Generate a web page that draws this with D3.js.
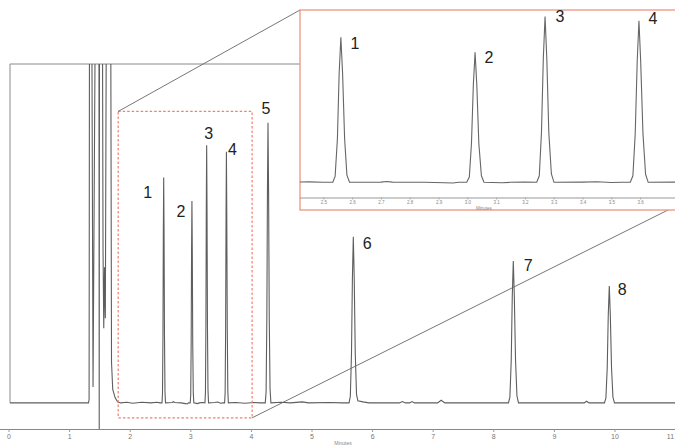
<!DOCTYPE html>
<html><head><meta charset="utf-8">
<script src="https://cdn.jsdelivr.net/npm/d3@7"></script>
<style>html,body{margin:0;padding:0;background:#fff;}svg{display:block;}</style>
</head><body>
<svg id="c" width="675" height="446"></svg>
<script>
// ---- data (retention time in min, detector signal in arbitrary units) ----
const solventFront = [
  [0.000,0],[1.320,0],[1.330,1],[1.337,130],[1.372,130],[1.395,4.7],[1.437,130],
  [1.492,130],[1.497,-7.7],[1.502,130],[1.548,130],[1.560,45],[1.572,22],[1.585,40],
  [1.598,25],[1.617,130],[1.685,130],[1.700,12],[1.720,4],[1.760,1.5],[1.800,0.3],[1.850,0]
];
const baselineA = [[1.95,0.2],[2.05,-0.1],[2.20,0.2],[2.35,0],[2.45,0.2],[2.50,0]];
const peak1 = [[2.533,0],[2.541,2.7],[2.549,20],[2.555,49.9],[2.561,66.5],[2.567,49.9],[2.574,20],[2.582,3.3],[2.591,0]];
const baselineB = [[2.70,0.1],[2.72,0.35],[2.74,0.1],[2.85,0],[2.92,-0.2],[2.95,-0.3],[2.97,0]];
const peak2 = [[2.998,0],[3.007,2.4],[3.0145,17.9],[3.021,44.7],[3.027,59.6],[3.033,44.7],[3.040,17.9],[3.049,3.0],[3.058,0]];
const baselineC = [[3.12,-0.2],[3.15,0],[3.20,0.1]];
const peak3 = [[3.241,0],[3.250,3.0],[3.2575,22.8],[3.264,57],[3.270,76],[3.276,57],[3.283,22.8],[3.292,3.8],[3.301,0]];
const baselineD = [[3.40,0.1],[3.45,0.25],[3.50,-0.1],[3.54,0]];
const peak4 = [[3.566,0],[3.575,3.0],[3.583,22.2],[3.590,55.6],[3.596,74.1],[3.602,55.6],[3.610,22.2],[3.619,3.7],[3.628,0]];
const baselineE = [[3.75,0.1],[3.90,-0.1],[4.05,0.1],[4.15,0]];
const peak5 = [[4.237,0],[4.251,3.3],[4.263,24.8],[4.273,62],[4.282,82.7],[4.292,62],[4.303,24.8],[4.316,4.1],[4.330,0]];
const baselineF = [[4.50,0.2],[4.65,0],[4.85,0.3],[4.95,0],[5.30,0.1],[5.50,0]];
const peak6 = [[5.620,0],[5.641,2.0],[5.660,14.7],[5.675,36.8],[5.690,49.0],[5.705,36.8],[5.722,14.7],[5.743,2.5],[5.765,0.6]];
const baselineG = [[5.85,0.3],[5.95,0],[6.45,0],[6.50,0.4],[6.55,0],[6.62,0],[6.66,0.4],[6.70,0],
  [7.08,0],[7.14,0.8],[7.20,0],[7.60,0],[8.00,0]];
const peak7 = [[8.250,0],[8.274,1.7],[8.296,12.6],[8.313,31.4],[8.330,41.9],[8.347,31.4],[8.367,12.6],[8.390,2.1],[8.416,0]];
const baselineH = [[8.90,0],[9.50,0],[9.54,0.5],[9.58,0]];
const peak8 = [[9.834,0],[9.858,1.4],[9.880,10.4],[9.897,25.9],[9.914,34.5],[9.931,25.9],[9.951,10.4],[9.974,1.7],[10.000,0]];
const baselineI = [[10.50,0],[11.10,0]];

const peakLabels = ["1","2","3","4","5","6","7","8"];
const peakTimes  = [2.561, 3.027, 3.270, 3.596, 4.282, 5.690, 8.330, 9.914];
const peakHeights= [66.5, 59.6, 76.0, 74.1, 82.7, 49.0, 41.9, 34.5];
const mainTicks  = [0,1,2,3,4,5,6,7,8,9,10,11];
const insetTicks = [2.5,2.6,2.7,2.8,2.9,3.0,3.1,3.2,3.3,3.4,3.5,3.6];
const zoomWindow = {t0:1.81, t1:4.02, s0:-4.4, s1:86};

const trace = [].concat(solventFront, baselineA, peak1, baselineB, peak2, baselineC, peak3,
  baselineD, peak4, baselineE, peak5, baselineF, peak6, baselineG, peak7, baselineH, peak8, baselineI);

// ---- layout ----
const svg = d3.select("#c");
const FONT = "'Liberation Sans', Arial, sans-serif";
const x = d3.scaleLinear().domain([0, 11]).range([8.5, 675.1]);
const y = d3.scaleLinear().domain([-7.7, 100]).range([429, 64]);

svg.append("defs").append("clipPath").attr("id","mainClip")
  .append("rect").attr("x",10).attr("y",64).attr("width",670).attr("height",366);
svg.select("defs").append("clipPath").attr("id","insetClip")
  .append("rect").attr("x",300).attr("y",10).attr("width",380).attr("height",187);

// frame
svg.append("line").attr("x1",10).attr("x2",675).attr("y1",64).attr("y2",64).attr("stroke","#8a8a8a");
svg.append("line").attr("x1",10).attr("x2",10).attr("y1",64).attr("y2",y(0)).attr("stroke","#8a8a8a");

// x-axis
const xAxis = d3.axisBottom(x).tickValues(mainTicks).tickSize(3).tickFormat(d3.format("d"));
const gx = svg.append("g").attr("transform","translate(0,429)").call(xAxis);
gx.select(".domain").attr("stroke","#888").attr("d","M0,0.5H675");
gx.selectAll(".tick line").attr("stroke","#999");
gx.selectAll(".tick text").attr("fill","#777").attr("font-size",7).attr("font-family",FONT).attr("dy","0.6em")
  .attr("text-anchor",d=>d===11?"end":"middle").attr("dx",d=>d===11?-1.5:0);
svg.append("text").attr("x",343).attr("y",445).attr("text-anchor","middle")
  .attr("font-size",5).attr("fill","#888").attr("font-family",FONT).text("Minutes");

// main trace
const line = d3.line().x(d=>x(d[0])).y(d=>y(d[1]));
svg.append("path").datum(trace).attr("d",line).attr("fill","none")
  .attr("stroke","#5e5e5e").attr("stroke-width",1.1).attr("clip-path","url(#mainClip)");

// dashed zoom rectangle
const zx0 = x(zoomWindow.t0), zx1 = x(zoomWindow.t1), zy0 = y(zoomWindow.s1), zy1 = y(zoomWindow.s0);
svg.append("rect").attr("x",zx0).attr("y",zy0).attr("width",zx1-zx0).attr("height",zy1-zy0)
  .attr("fill","none").attr("stroke","#ee8170").attr("stroke-width",1.2).attr("stroke-dasharray","2.5,2");

// connector lines
svg.append("line").attr("x1",zx0).attr("y1",zy0).attr("x2",300).attr("y2",10).attr("stroke","#666").attr("stroke-width",0.9);
svg.append("line").attr("x1",zx1).attr("y1",zy1).attr("x2",676).attr("y2",206).attr("stroke","#666").attr("stroke-width",0.9);

// main peak labels
const mainLabelOffsets = [[-16,15],[-11,11],[2,-12],[6,-2],[-2,-14],[14,7],[15,5],[13,4]];
svg.selectAll("text.pl").data(peakLabels).join("text").attr("class","pl")
  .attr("x",(d,i)=>x(peakTimes[i])+mainLabelOffsets[i][0])
  .attr("y",(d,i)=>y(peakHeights[i])+mainLabelOffsets[i][1])
  .attr("text-anchor","middle").attr("dominant-baseline","central")
  .attr("font-size",16).attr("fill","#222").attr("font-family",FONT).text(d=>d);

// ---- inset ----
const ix = d3.scaleLinear().domain([2.5, 3.6]).range([323.3, 640.1]);
const iy = d3.scaleLinear().domain([0, 79]).range([182.3, 10.1]);
svg.append("rect").attr("x",300).attr("y",10).attr("width",380).attr("height",200)
  .attr("fill","#fff").attr("stroke","#f0947f").attr("stroke-width",1.3);
const iline = d3.line().x(d=>ix(d[0])).y(d=>iy(d[1]));
svg.append("path").datum(trace).attr("d",iline).attr("fill","none")
  .attr("stroke","#666").attr("stroke-width",1.1).attr("clip-path","url(#insetClip)");
const ixAxis = d3.axisBottom(ix).tickValues(insetTicks).tickSize(2).tickFormat(d3.format(".1f"));
const gix = svg.append("g").attr("transform","translate(0,197.5)").call(ixAxis);
gix.select(".domain").attr("stroke","#999").attr("d","M300,0.5H675");
gix.selectAll(".tick line").attr("stroke","#aaa");
gix.selectAll(".tick text").attr("fill","#888").attr("font-size",4.5).attr("font-family",FONT).attr("dy","0.4em");
svg.append("text").attr("x",484).attr("y",210).attr("text-anchor","middle")
  .attr("font-size",4.5).attr("fill","#888").attr("font-family",FONT).text("Minutes");

const insetLabels = peakLabels.slice(0,4);
const insetLabelOffsets = [[14,6],[14,5],[15,0],[14,-2]];
svg.selectAll("text.il").data(insetLabels).join("text").attr("class","il")
  .attr("x",(d,i)=>ix(peakTimes[i])+insetLabelOffsets[i][0])
  .attr("y",(d,i)=>iy(peakHeights[i])+insetLabelOffsets[i][1])
  .attr("text-anchor","middle").attr("dominant-baseline","central")
  .attr("font-size",16).attr("fill","#222").attr("font-family",FONT).text(d=>d);
</script>
</body></html>
